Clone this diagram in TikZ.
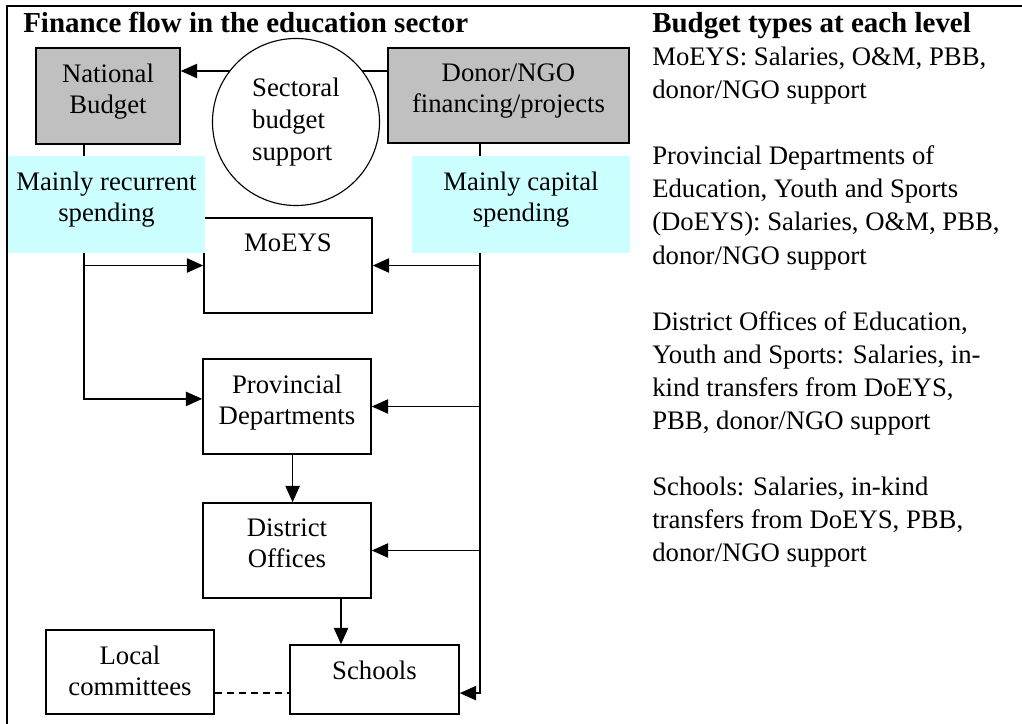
\documentclass[tikz,border=0pt]{standalone}
\usepackage{fontspec}
\setmainfont{Liberation Serif}
\usetikzlibrary{arrows.meta,positioning}
\definecolor{budgetgray}{RGB}{192,192,192}
\definecolor{spendcyan}{RGB}{204,255,255}
\tikzset{
  levelbox/.style 2 args={draw, line width=1.1pt, inner sep=0pt, font=\fontsize{19}{22}\selectfont,
    execute at begin node={\begin{minipage}[c][#2][t]{#1}\centering\vspace*{0.4cm}},
    execute at end node={\end{minipage}}},
  flow/.style={line width=0.95pt, -{Triangle[length=0.41cm,width=0.36cm]}},
}

\begin{document}
\begin{tikzpicture}[x=0.025cm,y=-0.025cm]
    \useasboundingbox (0,0) rectangle (1022,724);
    \draw[line width=1.4pt] (7,724) -- (7,6) -- (1022,6);
    \node[anchor=base west, inner sep=0pt, font=\fontsize{20.6}{24}\selectfont\bfseries] (title) at (23,32) {Finance flow in the education sector};
    \node[levelbox={3.6cm}{2.4cm}, fill=budgetgray] (national) at (108,96) {National\\Budget};
    \node[levelbox={6.025cm}{2.375cm}, fill=budgetgray] (donor) at (508.5,95.5) {Donor/NGO\\financing/projects};
    \coordinate (sbsline) at (0,71);
    \draw[flow] (donor.west |- sbsline) -- (national.east |- sbsline);
    \node[draw, circle, fill=white, line width=0.8pt, minimum size=4.175cm, inner sep=0pt, align=left, font=\fontsize{19}{22.5}\selectfont] (sbs) at (296,122) {Sectoral\\budget\\support};
    \node[levelbox={4.2cm}{2.375cm}] (moeys) at (288,265.5) {MoEYS};
    \node[levelbox={4.2cm}{2.375cm}] (prov) at (287,406.5) {Provincial\\Departments};
    \node[levelbox={4.2cm}{2.375cm}] (district) at (287,550.5) {District\\Offices};
    \node[levelbox={4.225cm}{1.725cm}] (schools) at (374.5,679.5) {Schools};
    \node[levelbox={4.2cm}{2.1cm}] (local) at (130,672) {Local\\committees};
    \coordinate (lefttrunk) at (84,0);
    \coordinate (righttrunk) at (480,0);
    \draw[flow] (national.south -| lefttrunk) |- ([yshift=0.19cm]prov.west);
    \draw[flow] (moeys.west -| lefttrunk) -- (moeys.west);
    \draw[flow] (donor.south -| righttrunk) |- ([yshift=-0.34cm]schools.east);
    \draw[flow] (moeys.east -| righttrunk) -- (moeys.east);
    \draw[flow] (prov.east -| righttrunk) -- (prov.east);
    \draw[flow] (district.east -| righttrunk) -- (district.east);
    \draw[flow] ([xshift=0.14cm]prov.south) -- ([xshift=0.14cm]district.north);
    \draw[flow] ([xshift=1.35cm]district.south) -- ([xshift=1.35cm]district.south |- schools.north);
    \draw[line width=0.8pt, dash pattern=on 0.17cm off 0.13cm] ([yshift=-0.525cm]local.east) -- ([yshift=-0.525cm]local.east -| schools.west);
    \node[levelbox={4.925cm}{2.425cm}, draw=none, fill=spendcyan] (recurrent) at (106.5,204.5) {Mainly recurrent\\spending};
    \node[levelbox={5.45cm}{2.425cm}, draw=none, fill=spendcyan] (capital) at (521,204.5) {Mainly capital\\spending};
    \node[anchor=north west, inner sep=0pt, align=left, font=\fontsize{19}{23.5}\selectfont] (types) at (652,12.3) {{\bfseries\fontsize{20.6}{23.5}\selectfont Budget types at each level}\\
        MoEYS: Salaries, O\&M, PBB,\\
        donor/NGO support\\[23.5pt]
        Provincial Departments of\\
        Education, Youth and Sports\\
        (DoEYS): Salaries, O\&M, PBB,\\
        donor/NGO support\\[23.5pt]
        District Offices of Education,\\
        Youth and Sports: Salaries, in-\\
        kind transfers from DoEYS,\\
        PBB, donor/NGO support\\[23.5pt]
        Schools: Salaries, in-kind\\
        transfers from DoEYS, PBB,\\
        donor/NGO support};
\end{tikzpicture}
\end{document}
